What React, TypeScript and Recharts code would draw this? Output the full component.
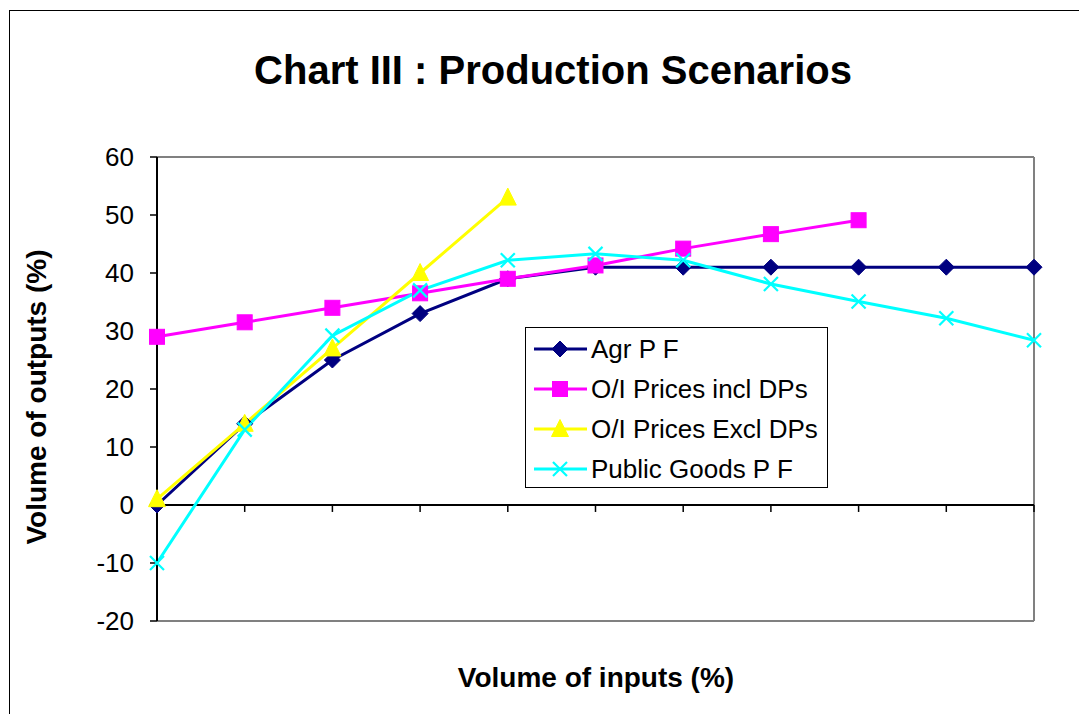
import React from 'react';
import { LineChart, Line, XAxis, YAxis, ReferenceLine } from 'recharts';

const categories = ['1', '2', '3', '4', '5', '6', '7', '8', '9', '10', '11'];
const agrPF = [0, 14, 25, 33, 39, 41, 41, 41, 41, 41, 41];
const inclDPs: (number | null)[] = [29, 31.5, 34, 36.5, 39, 41.3, 44.2, 46.7, 49.1, null, null];
const exclDPs: (number | null)[] = [1, 14, 27, 40, 53, null, null, null, null, null, null];
const publicGoods = [-10, 13, 29.2, 37, 42.2, 43.3, 42.2, 38.1, 35.1, 32.2, 28.4];
const yTicks = [-20, -10, 0, 10, 20, 30, 40, 50, 60];

const seriesNames = ['Agr P F', 'O/I Prices incl DPs', 'O/I Prices Excl DPs', 'Public Goods P F'];
const seriesColors = ['#000080', '#FF00FF', '#FFFF00', '#00FFFF'];
const seriesKeys = ['agr', 'incl', 'excl', 'pg'];
const markerKinds = ['diamond', 'square', 'triangle', 'x'];

const data = categories.map((c, i) => ({
  cat: c,
  agr: agrPF[i],
  incl: inclDPs[i],
  excl: exclDPs[i],
  pg: publicGoods[i],
}));

const FONT = '"Liberation Sans", Arial, Helvetica, sans-serif';

function Marker({ kind, cx, cy, color }: { kind: string; cx: number; cy: number; color: string }) {
  if (kind === 'diamond') {
    const r = 8;
    return <polygon points={`${cx},${cy - r} ${cx + r},${cy} ${cx},${cy + r} ${cx - r},${cy}`} fill={color} stroke={color} strokeWidth={1} />;
  }
  if (kind === 'square') {
    const r = 7.5;
    return <rect x={cx - r} y={cy - r} width={2 * r} height={2 * r} fill={color} stroke={color} strokeWidth={1} />;
  }
  if (kind === 'triangle') {
    const r = 8.5;
    return <polygon points={`${cx},${cy - r - 1} ${cx + r},${cy + r - 1} ${cx - r},${cy + r - 1}`} fill={color} stroke={color} strokeWidth={1} />;
  }
  const r = 7;
  return (
    <g stroke={color} strokeWidth={2.2}>
      <line x1={cx - r} y1={cy - r} x2={cx + r} y2={cy + r} />
      <line x1={cx - r} y1={cy + r} x2={cx + r} y2={cy - r} />
    </g>
  );
}

function makeDot(kind: string, color: string) {
  return (props: any) => {
    const { cx, cy, index, value } = props;
    if (cx == null || cy == null || value == null || Number.isNaN(cy)) return <g key={`d-${kind}-${index}`} />;
    return (
      <g key={`d-${kind}-${index}`}>
        <Marker kind={kind} cx={cx} cy={cy} color={color} />
      </g>
    );
  };
}

export default function App() {
  return (
    <div style={{ position: 'relative', width: 1079, height: 706, overflow: 'hidden', fontFamily: FONT, background: '#fff' }}>
      <div style={{ position: 'absolute', left: 1, top: 2, width: 1200, height: 900, border: '1px solid #000', boxSizing: 'border-box' }} />
      <div style={{ position: 'absolute', left: 145, top: 38, width: 800, textAlign: 'center', fontWeight: 'bold', fontSize: 40, lineHeight: '48px', whiteSpace: 'nowrap' }}>
        Chart III : Production Scenarios
      </div>
      <LineChart
        width={1079}
        height={706}
        data={data}
        margin={{ top: 149, right: 53, bottom: 93, left: 89 }}
        style={{ position: 'absolute', left: 0, top: 0 }}
      >
        <XAxis dataKey="cat" hide />
        <YAxis
          domain={[-20, 60]}
          ticks={yTicks}
          interval={0}
          width={60}
          tickSize={7}
          tickMargin={16}
          axisLine={{ stroke: '#000', strokeWidth: 2 }}
          tickLine={{ stroke: '#000', strokeWidth: 1.5 }}
          tick={{ fill: '#000', fontSize: 26, fontFamily: FONT }}
        />
        <ReferenceLine y={60} stroke="#808080" strokeWidth={2} />
        <ReferenceLine y={-20} stroke="#808080" strokeWidth={2} />
        <ReferenceLine x={categories[categories.length - 1]} stroke="#808080" strokeWidth={2} />
        <ReferenceLine y={0} stroke="#000" strokeWidth={2} />
        {categories.slice(1).map((c) => (
          <ReferenceLine key={`t-${c}`} segment={[{ x: c, y: 0 }, { x: c, y: -1.2 }]} stroke="#000" strokeWidth={1.5} />
        ))}
        {seriesKeys.map((k, i) => (
          <Line
            key={k}
            type="linear"
            dataKey={k}
            name={seriesNames[i]}
            stroke={seriesColors[i]}
            strokeWidth={3}
            dot={makeDot(markerKinds[i], seriesColors[i])}
            activeDot={false}
            isAnimationActive={false}
            connectNulls={false}
          />
        ))}
      </LineChart>
      <div
        style={{
          position: 'absolute',
          left: 29 - 200,
          top: 389 - 16,
          width: 400,
          height: 32,
          lineHeight: '32px',
          textAlign: 'center',
          fontWeight: 'bold',
          fontSize: 28,
          whiteSpace: 'nowrap',
          transform: 'rotate(-90deg)',
          transformOrigin: 'center',
        }}
      >
        Volume of outputs (%)
      </div>
      <div style={{ position: 'absolute', left: 588 - 250, top: 654, width: 500, lineHeight: '32px', textAlign: 'center', fontWeight: 'bold', fontSize: 28, whiteSpace: 'nowrap' }}>
        Volume of inputs (%)
      </div>
      <div
        style={{
          position: 'absolute',
          left: 517,
          top: 319,
          width: 303,
          height: 161,
          border: '1px solid #000',
          boxSizing: 'border-box',
          background: '#fff',
          paddingTop: 1,
        }}
      >
        {seriesNames.map((n, i) => (
          <div key={n} style={{ display: 'flex', alignItems: 'center', height: 40 }}>
            <svg width={59} height={24} style={{ marginLeft: 6, flex: 'none' }}>
              <line x1={2} y1={12} x2={55} y2={12} stroke={seriesColors[i]} strokeWidth={3} />
              <Marker kind={markerKinds[i]} cx={28} cy={12} color={seriesColors[i]} />
            </svg>
            <span style={{ fontSize: 26, color: '#000', whiteSpace: 'nowrap' }}>{n}</span>
          </div>
        ))}
      </div>
    </div>
  );
}
